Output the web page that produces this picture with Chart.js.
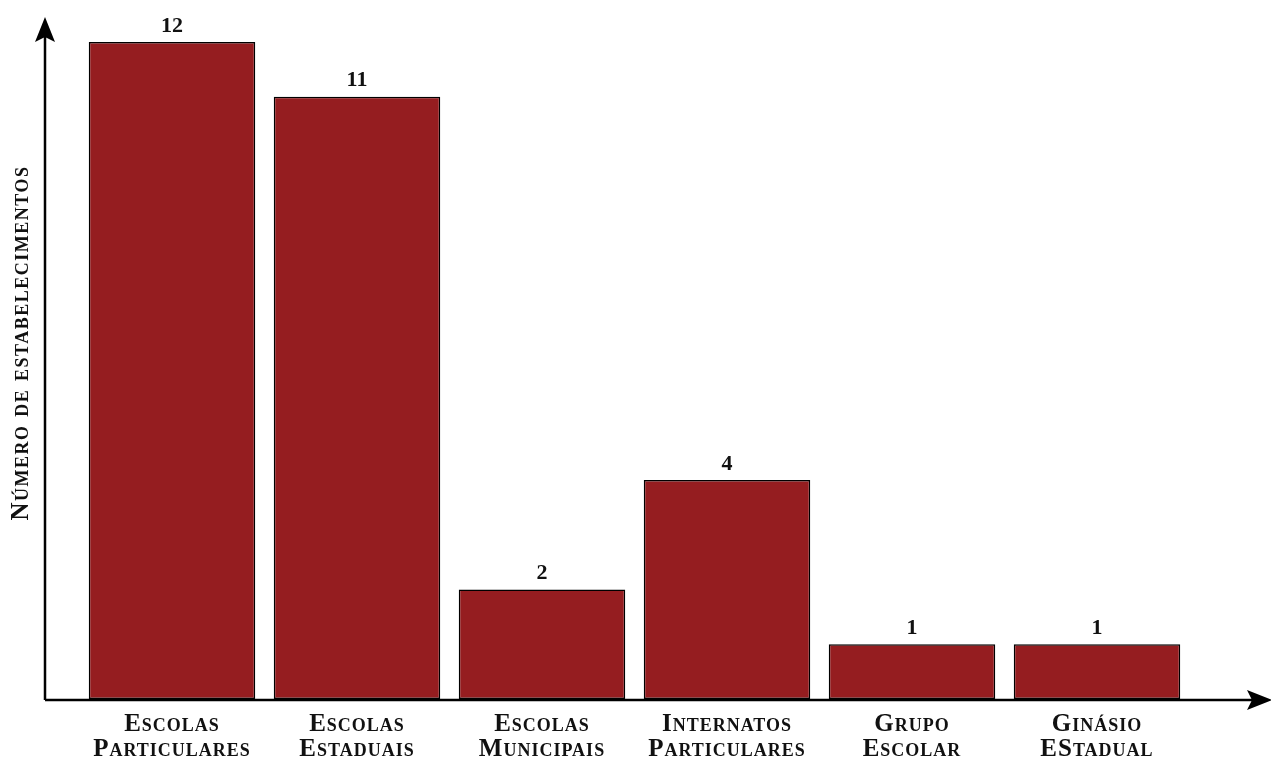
<!DOCTYPE html>
<html>
<head>
<meta charset="utf-8">
<script src="https://cdn.jsdelivr.net/npm/chart.js@4/dist/chart.umd.min.js"></script>
<style>
  html, body { margin: 0; padding: 0; background: #fff; }
  #wrap { width: 1271px; height: 759px; }
</style>
</head>
<body>
<div id="wrap"><canvas id="chart"></canvas></div>
<script>
var categories = [
  ['Escolas', 'Particulares'],
  ['Escolas', 'Estaduais'],
  ['Escolas', 'Municipais'],
  ['Internatos', 'Particulares'],
  ['Grupo', 'Escolar'],
  ['Ginásio', 'EStadual']
];
var counts = [12, 11, 2, 4, 1, 1];
var yTitle = 'Número de estabelecimentos';

var serif = '"Liberation Serif", "DejaVu Serif", serif';

// small caps labels look wider with a bit of spacing
var spacing = {
  id: 'spacing',
  beforeDraw: function (chart) {
    chart.ctx.letterSpacing = '1px';
  }
};

// axes with arrow heads, drawn after the chart
var arrowAxes = {
  id: 'arrowAxes',
  afterDraw: function (chart) {
    var ctx = chart.ctx;
    var y0 = chart.scales.y.getPixelForValue(0) + 1;
    var x0 = 45;
    ctx.save();
    ctx.letterSpacing = '0px';
    ctx.strokeStyle = '#000';
    ctx.fillStyle = '#000';
    ctx.lineWidth = 2.5;
    ctx.beginPath();
    ctx.moveTo(x0, y0);
    ctx.lineTo(x0, 30);
    ctx.moveTo(x0, y0);
    ctx.lineTo(1262, y0);
    ctx.stroke();
    // up arrow
    ctx.beginPath();
    ctx.moveTo(x0, 17);
    ctx.lineTo(x0 + 10, 42);
    ctx.lineTo(x0, 37);
    ctx.lineTo(x0 - 10, 42);
    ctx.closePath();
    ctx.fill();
    // right arrow
    ctx.beginPath();
    ctx.moveTo(1272, y0);
    ctx.lineTo(1247, y0 - 10);
    ctx.lineTo(1252, y0);
    ctx.lineTo(1247, y0 + 10);
    ctx.closePath();
    ctx.fill();

    // y title
    ctx.translate(22, 343);
    ctx.rotate(-Math.PI / 2);
    ctx.letterSpacing = '1.5px';
    ctx.font = 'small-caps 600 25px ' + serif;
    ctx.fillStyle = '#111';
    ctx.textAlign = 'center';
    ctx.textBaseline = 'middle';
    ctx.fillText(yTitle, 0, 0);
    ctx.restore();

    // value labels above bars
    var meta = chart.getDatasetMeta(0);
    ctx.save();
    ctx.letterSpacing = '0px';
    ctx.font = '600 22px ' + serif;
    ctx.fillStyle = '#111';
    ctx.textAlign = 'center';
    ctx.textBaseline = 'bottom';
    meta.data.forEach(function (bar, i) {
      ctx.fillText(String(counts[i]), bar.x, bar.y - 5);
    });
    ctx.restore();
  }
};

new Chart(document.getElementById('chart'), {
  type: 'bar',
  data: {
    labels: categories,
    datasets: [{
      data: counts,
      backgroundColor: '#951d20',
      borderColor: '#000',
      borderWidth: 1.5,
      borderSkipped: false,
      barPercentage: 0.9,
      categoryPercentage: 1.0
    }]
  },
  options: {
    responsive: true,
    maintainAspectRatio: false,
    animation: false,
    layout: { padding: { left: 0, right: 81.5, top: 42, bottom: 0 } },
    plugins: {
      legend: { display: false },
      tooltip: { enabled: false }
    },
    scales: {
      x: {
        grid: { display: false, drawTicks: false },
        border: { display: false },
        ticks: {
          color: '#111',
          padding: 13,
          maxRotation: 0,
          autoSkip: false,
          font: { family: serif, size: 25, weight: 'small-caps 600', lineHeight: 1.0 }
        },
        afterFit: function (s) { s.height = 60; }
      },
      y: {
        min: 0,
        max: 12,
        grid: { display: false, drawTicks: false },
        border: { display: false },
        ticks: { display: false },
        afterFit: function (s) { s.width = 79.5; }
      }
    }
  },
  plugins: [spacing, arrowAxes]
});
</script>
</body>
</html>
